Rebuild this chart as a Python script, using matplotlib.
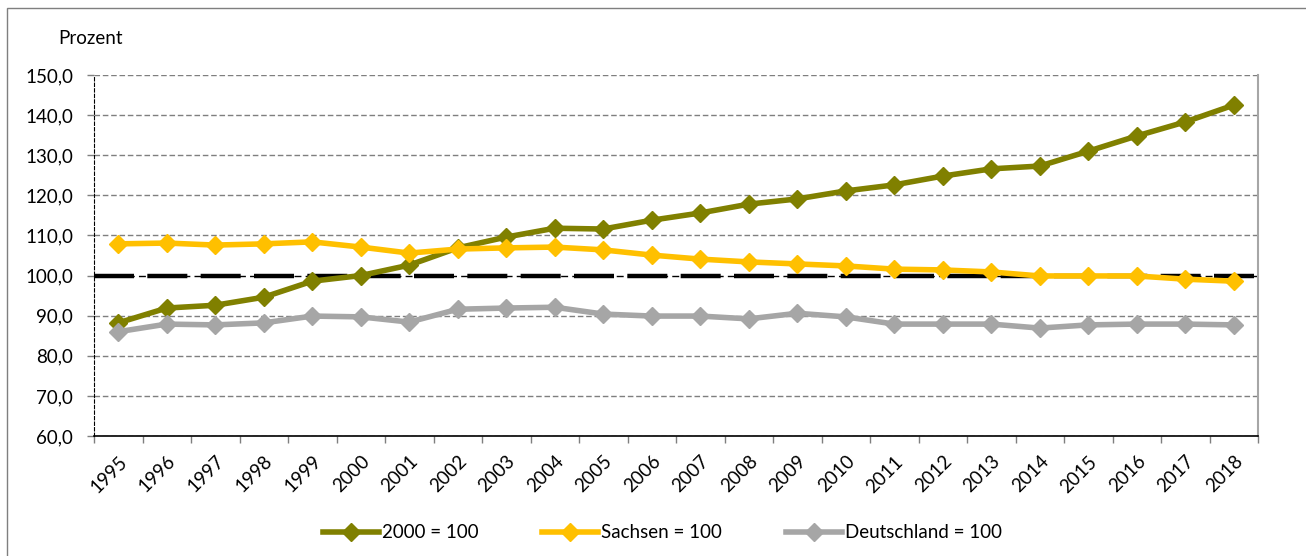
import matplotlib
matplotlib.use("Agg")
import matplotlib.pyplot as plt
from matplotlib.patches import Rectangle

years = [str(y) for y in range(1995, 2019)]
s2000 = [88.2, 91.9, 92.6, 94.6, 98.6, 100.0, 102.6, 106.9, 109.6, 111.8, 111.6, 113.8,
         115.6, 117.8, 119.1, 121.1, 122.6, 124.8, 126.6, 127.3, 131.0, 134.8, 138.3, 142.5]
sachsen = [107.9, 108.1, 107.6, 107.9, 108.4, 107.1, 105.6, 106.6, 106.9, 107.1, 106.4, 105.1,
           104.1, 103.4, 102.9, 102.4, 101.6, 101.4, 100.9, 99.9, 99.9, 99.9, 99.1, 98.6]
deutschland = [86.0, 87.9, 87.7, 88.2, 89.9, 89.7, 88.4, 91.6, 91.9, 92.1, 90.4, 89.9,
               89.9, 89.2, 90.6, 89.7, 87.9, 87.9, 87.9, 86.9, 87.7, 87.9, 87.9, 87.7]
series_labels = ["2000 = 100", "Sachsen = 100", "Deutschland = 100"]
colors = ["#808000", "#FFC000", "#A6A6A6"]
yticks = [60, 70, 80, 90, 100, 110, 120, 130, 140, 150]

plt.rcParams['font.family'] = ['Lato', 'DejaVu Sans']
FS = 13.5

fig = plt.figure(figsize=(13.06, 5.56), dpi=100)
ax = fig.add_axes([94/1306, 1-436/556, (1258-94)/1306, (436-75)/556])

x = list(range(len(years)))

# gridlines
for v in yticks:
    if v == 100:
        continue
    ax.axhline(v, color="#7f7f7f", lw=1.0, ls=(0, (4, 2)), zorder=1)
# reference line at 100
ax.axhline(100, color="black", lw=1.0, ls=(0, (5, 3)), zorder=2)
ax.axhline(100, color="black", lw=3.2, ls=(0, (9, 3)), zorder=2)

lines = []
for vals, c, lab in zip([s2000, sachsen, deutschland], colors, series_labels):
    l, = ax.plot(x, vals, color=c, lw=4.0, marker="D", markersize=9,
                 markeredgecolor=c, label=lab, zorder=3, solid_joinstyle="round")
    lines.append(l)

ax.set_xlim(-0.5, len(years) - 0.5)
ax.set_ylim(60, 150)
ax.set_yticks(yticks)
ax.set_yticklabels([f"{v:.1f}".replace(".", ",") for v in yticks], fontsize=FS)

ax.set_xticks([i - 0.5 for i in range(len(years) + 1)])
ax.set_xticklabels([])
ax.set_xticks(x, minor=True)
ax.set_xticklabels(years, minor=True, rotation=45, ha="right", va="top",
                   rotation_mode="anchor", fontsize=FS)
ax.tick_params(axis="x", which="minor", length=0, pad=12)
ax.tick_params(axis="x", which="major", length=5, width=1, color="#7f7f7f")
ax.tick_params(axis="y", length=5, width=1, color="#7f7f7f", pad=10)

ax.spines["top"].set_visible(False)
ax.spines["left"].set_linestyle((0, (3, 2)))
ax.spines["left"].set_linewidth(0.8)
ax.spines["left"].set_color("black")
ax.spines["bottom"].set_color("black")
ax.spines["bottom"].set_linewidth(1.2)
ax.spines["right"].set_color("#A6A6A6")
ax.spines["right"].set_linewidth(1.5)

fig.text(58/1306, 1-38/556, "Prozent", fontsize=FS, ha="left", va="center")

fig.legend(handles=lines, labels=series_labels, loc="center",
           bbox_to_anchor=(0.507, 1-533/556), ncol=3, frameon=False, fontsize=FS,
           handlelength=3.0, columnspacing=3.4, handletextpad=0.15)

fig.patches.append(Rectangle((7/1306, -0.05), 1.1, 1-8/556 + 0.05,
                             transform=fig.transFigure, fill=False,
                             edgecolor="#7f7f7f", lw=1.0))

fig.savefig("out.png", dpi=100)
